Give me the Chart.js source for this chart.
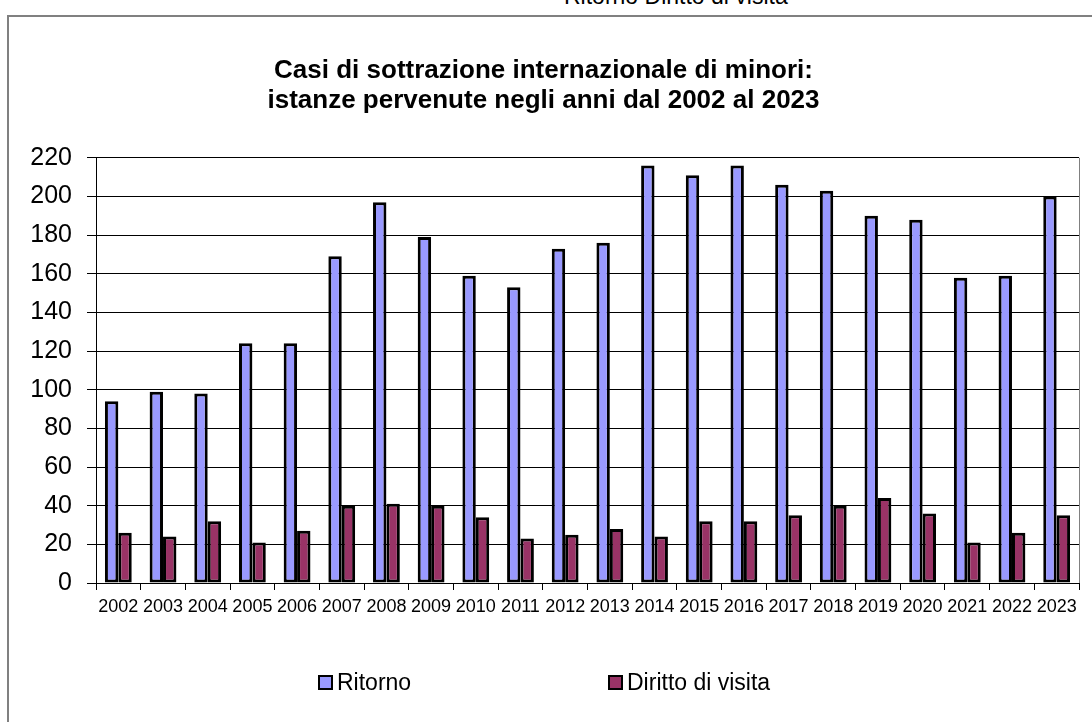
<!DOCTYPE html>
<html>
<head>
<meta charset="utf-8">
<script src="https://cdn.jsdelivr.net/npm/chart.js@4"></script>
<style>
  html, body { margin: 0; padding: 0; width: 1092px; height: 722px; overflow: hidden; background: #fff; }
  body { position: relative; font-family: "Liberation Sans", Arial, sans-serif; }
  #frame { position: absolute; left: 7px; top: 15px; width: 2000px; height: 2000px; border-left: 2px solid #808080; border-top: 2px solid #808080; box-sizing: border-box; }
  #toptext { position: absolute; left: 564px; top: -15px; font-size: 23px; line-height: 23px; color: #000; white-space: nowrap; }
  #wrap { position: absolute; left: 0; top: 0; width: 1092px; height: 722px; }
  #legend { position: absolute; top: 669px; left: 0; width: 1092px; height: 26px; }
  .item { position: absolute; top: 0; height: 26px; display: flex; align-items: center; font-size: 23px; color: #000; white-space: nowrap; }
  .box { width: 11px; height: 11px; border: 2px solid #000; margin-right: 4px; }
</style>
</head>
<body>
<div id="frame"></div>
<div id="toptext"></div>
<div id="wrap"><canvas id="c" width="1092" height="722"></canvas></div>
<div id="legend"></div>
<script>
const years = ['2002','2003','2004','2005','2006','2007','2008','2009','2010','2011','2012','2013','2014','2015','2016','2017','2018','2019','2020','2021','2022','2023'];
const ritorno = [94, 99, 98, 124, 124, 169, 197, 179, 159, 153, 173, 176, 216, 211, 216, 206, 203, 190, 188, 158, 159, 200];
const diritto = [26, 24, 32, 21, 27, 40, 41, 40, 34, 23, 25, 28, 24, 32, 32, 35, 40, 44, 36, 21, 26, 35];
const seriesNames = ['Ritorno', 'Diritto di visita'];
const seriesColors = ['#9999FF', '#993366'];
const titleLines = ['Casi di sottrazione internazionale di minori:', 'istanze pervenute negli anni dal 2002 al 2023'];
const yMin = 0, yMax = 220, yStep = 20;

const FONT = '"Liberation Sans", Arial, sans-serif';

document.getElementById('toptext').textContent = seriesNames.join(' ');

const legendPos = [318, 608];
const legend = document.getElementById('legend');
seriesNames.forEach((n, i) => {
  const it = document.createElement('div');
  it.className = 'item';
  it.style.left = legendPos[i] + 'px';
  const b = document.createElement('div');
  b.className = 'box';
  b.style.background = seriesColors[i];
  const t = document.createElement('span');
  t.textContent = n;
  it.appendChild(b); it.appendChild(t);
  legend.appendChild(it);
});

const plotFrame = {
  id: 'plotFrame',
  afterDraw(chart) {
    const a = chart.chartArea, ctx = chart.ctx;
    ctx.save();
    ctx.strokeStyle = '#808080';
    ctx.lineWidth = 1;
    ctx.beginPath();
    ctx.moveTo(Math.round(a.right) + 0.5, a.top);
    ctx.lineTo(Math.round(a.right) + 0.5, a.bottom);
    ctx.stroke();
    ctx.restore();
  }
};

new Chart(document.getElementById('c'), {
  type: 'bar',
  data: {
    labels: years,
    datasets: [
      { label: seriesNames[0], data: ritorno, backgroundColor: seriesColors[0], borderColor: '#000', borderWidth: 3, borderSkipped: false, categoryPercentage: 0.6, barPercentage: 1.0 },
      { label: seriesNames[1], data: diritto, backgroundColor: seriesColors[1], borderColor: '#000', borderWidth: 3, borderSkipped: false, categoryPercentage: 0.6, barPercentage: 1.0 }
    ]
  },
  options: {
    responsive: false,
    animation: false,
    devicePixelRatio: 1,
    layout: { padding: { left: 8, right: 13, top: 15, bottom: 0 } },
    plugins: {
      legend: { display: false },
      tooltip: { enabled: false },
      title: {
        display: true,
        text: titleLines,
        color: '#000',
        font: { family: FONT, size: 26, weight: 'bold', lineHeight: 1.15 },
        padding: { top: 41, bottom: 42 }
      }
    },
    scales: {
      x: {
        afterFit(scale) { scale.height = 139; },
        grid: { display: true, drawOnChartArea: false, drawTicks: true, tickLength: 7, color: '#000', offset: true },
        border: { display: true, color: '#000', width: 1 },
        ticks: { color: '#000', font: { family: FONT, size: 18 }, maxRotation: 0, minRotation: 0, autoSkip: false, padding: 6 }
      },
      y: {
        min: yMin, max: yMax,
        afterFit(scale) { scale.width = 88; },
        grid: { color: '#000', lineWidth: 1, tickLength: 9, drawTicks: true },
        border: { display: true, color: '#000', width: 1 },
        ticks: { stepSize: yStep, color: '#000', font: { family: FONT, size: 25 }, padding: 15 }
      }
    }
  },
  plugins: [plotFrame]
});
</script>
</body>
</html>
